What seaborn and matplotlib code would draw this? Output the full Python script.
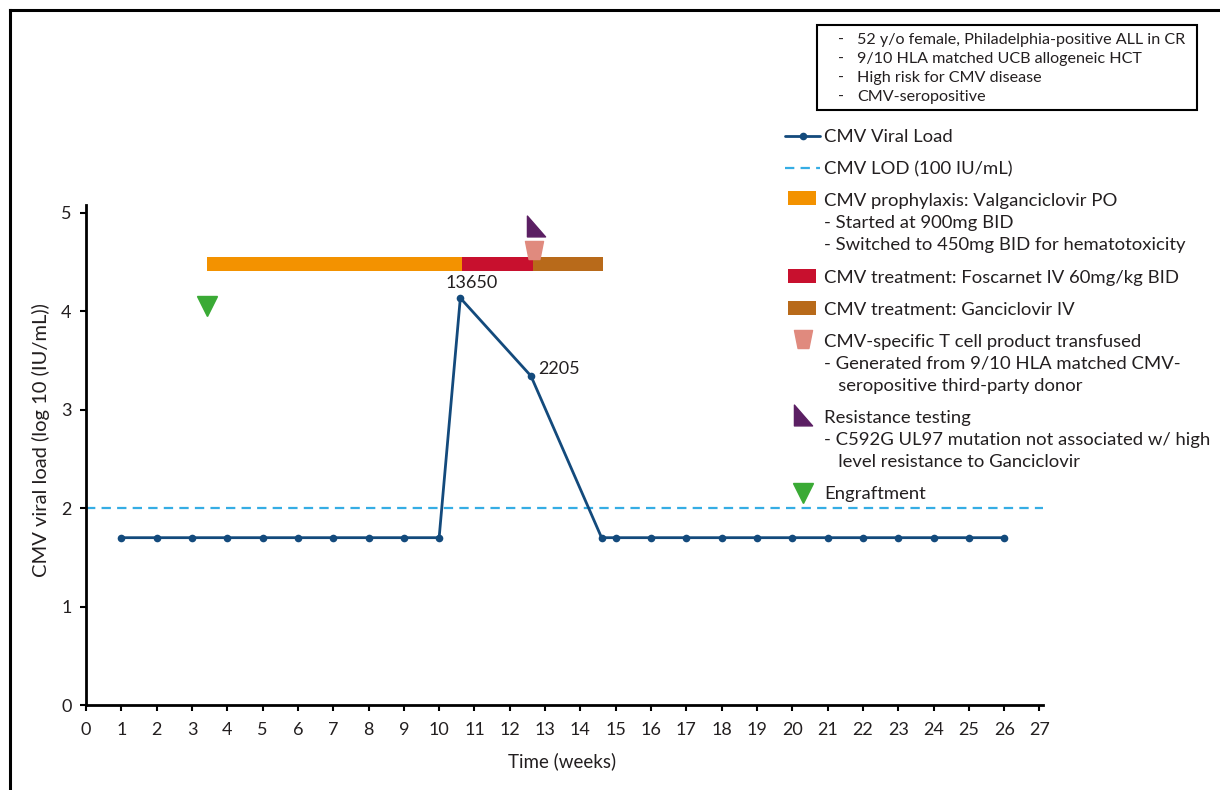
import numpy as np
import pandas as pd
import seaborn as sns
import matplotlib.pyplot as plt
from matplotlib.lines import Line2D
from matplotlib.patches import Patch, Rectangle
from matplotlib.path import Path
from matplotlib.transforms import Affine2D
from matplotlib.legend_handler import HandlerBase, HandlerLine2D, HandlerPatch

# --- data ---
weeks = [1, 2, 3, 4, 5, 6, 7, 8, 9, 10, 10.6, 12.6, 14.6,
         15, 16, 17, 18, 19, 20, 21, 22, 23, 24, 25, 26]
log_load = [1.7, 1.7, 1.7, 1.7, 1.7, 1.7, 1.7, 1.7, 1.7, 1.7, 4.135, 3.343, 1.7,
            1.7, 1.7, 1.7, 1.7, 1.7, 1.7, 1.7, 1.7, 1.7, 1.7, 1.7, 1.7]
peak_weeks = [10.6, 12.6]
peak_copies = [13650, 2205]
lod = 2.0

# treatment bars (start / end week)
treat_names = ["Valganciclovir", "Foscarnet", "Ganciclovir"]
treat_start = [3.42, 10.64, 12.65]
treat_end = [10.64, 12.65, 14.63]
treat_level = 4.48

engraft_week, engraft_y = 3.42, 4.05
tcell_week, tcell_y = 12.68, 4.62
resist_week, resist_y = 12.74, 4.87

info_lines = ["52 y/o female, Philadelphia-positive ALL in CR",
              "9/10 HLA matched UCB allogeneic HCT",
              "High risk for CMV disease",
              "CMV-seropositive"]

# colours
c_load = "#134a7c"
c_lod = "#35ade4"
c_treat = ["#f39200", "#c8102e", "#b86a1a"]
c_tcell = "#e08a7e"
c_resist = "#5b1f63"
c_engraft = "#3aaa35"
txt = "#231f20"

sns.set_theme(style="ticks")
plt.rcParams["font.family"] = ["Lato", "DejaVu Sans"]

# custom markers
trap = Path([(-1, 1), (1, 1), (0.6, -1), (-0.6, -1), (-1, 1)],
            [Path.MOVETO, Path.LINETO, Path.LINETO, Path.LINETO, Path.CLOSEPOLY])
rtri = Path([(-0.87, 1), (0.87, -1), (-0.87, -1), (-0.87, 1)],
            [Path.MOVETO, Path.LINETO, Path.LINETO, Path.CLOSEPOLY])

fig = plt.figure(figsize=(12.2, 7.9), dpi=100)
ax = fig.add_axes([86 / 1220, 85 / 790, (1043 - 86) / 1220, (705 - 205) / 790])

df = pd.DataFrame({"week": weeks, "load": log_load})
sns.lineplot(data=df, x="week", y="load", ax=ax, color=c_load, linewidth=2,
             marker="o", markersize=5.5, markeredgewidth=0, errorbar=None, zorder=3)

ax.axhline(lod, color=c_lod, linewidth=1.6, linestyle=(0, (4.2, 2.8)), zorder=2)

widths = [e - s for s, e in zip(treat_start, treat_end)]
ax.barh([treat_level] * 3, widths, left=treat_start, height=0.14,
        color=c_treat, linewidth=0, zorder=2)

ax.plot([engraft_week], [engraft_y], marker="v", markersize=14, color=c_engraft,
        linestyle="none", clip_on=False)
ax.plot([tcell_week], [tcell_y], marker=trap, markersize=13, color=c_tcell,
        linestyle="none", clip_on=False)
ax.plot([resist_week], [resist_y], marker=rtri, markersize=15, color=c_resist,
        linestyle="none", clip_on=False)

ax.annotate(f"{peak_copies[0]}", (peak_weeks[0], log_load[10]), xytext=(8, 11),
            textcoords="offset points", ha="center", va="center", fontsize=13, color=txt)
ax.annotate(f"{peak_copies[1]}", (peak_weeks[1], log_load[11]), xytext=(5, 5),
            textcoords="offset points", ha="left", va="center", fontsize=13, color=txt)

ax.set_xlim(0, 27.1)
ax.set_ylim(0, 5.08)
ax.set_xticks(range(0, 28))
ax.set_yticks(range(0, 6))
ax.tick_params(direction="out", length=4.5, width=1.5, labelsize=13,
               colors="black", labelcolor=txt)
ax.tick_params(axis="x", pad=8)
ax.tick_params(axis="y", pad=6)
for s in ["top", "right"]:
    ax.spines[s].set_visible(False)
for s in ["left", "bottom"]:
    ax.spines[s].set_linewidth(2)
    ax.spines[s].set_color("black")
ax.set_xlabel("Time (weeks)", fontsize=13.5, color=txt)
ax.set_ylabel("CMV viral load (log 10 (IU/mL))", fontsize=14.5, color=txt)
ax.xaxis.set_label_coords(0.497, -0.094)
ax.yaxis.set_label_coords(-0.0376, 0.53)


# legend handler that keeps the swatch on the first line of a multi-line label
class FirstLine(HandlerBase):
    def __init__(self, base, lift=0):
        super().__init__()
        self.base = base
        self.lift = lift

    def legend_artist(self, legend, orig_handle, fontsize, handlebox):
        xd, yd, w, h = self.base.adjust_drawing_area(
            legend, orig_handle, handlebox.xdescent, handlebox.ydescent,
            handlebox.width, handlebox.height, fontsize)
        trans = Affine2D().translate(0, self.lift) + handlebox.get_transform()
        arts = self.base.create_artists(legend, orig_handle, xd, yd, w, h, fontsize, trans)
        for a in arts:
            handlebox.add_artist(a)
        return arts[0]


def swatch(legend, orig_handle, xdescent, ydescent, width, height, fontsize):
    return Rectangle((-xdescent + 0.09 * width, -ydescent - 0.05 * height),
                     0.78 * width, 1.1 * height)


h_load = Line2D([], [], color=c_load, linewidth=2, marker="o", markersize=5.5, markeredgewidth=0)
h_lod = Line2D([], [], color=c_lod, linewidth=1.6, linestyle=(0, (4.2, 2.8)))
h_pro = Patch(color=c_treat[0], linewidth=0)
h_fos = Patch(color=c_treat[1], linewidth=0)
h_gan = Patch(color=c_treat[2], linewidth=0)
h_tc = Line2D([], [], color=c_tcell, marker=trap, markersize=13, linestyle="none")
h_rs = Line2D([], [], color=c_resist, marker=rtri, markersize=15, linestyle="none")
h_en = Line2D([], [], color=c_engraft, marker="v", markersize=14, linestyle="none")

labels = ["CMV Viral Load",
          "CMV LOD (100 IU/mL)",
          "CMV prophylaxis: Valganciclovir PO\n- Started at 900mg BID\n- Switched to 450mg BID for hematotoxicity",
          "CMV treatment: Foscarnet IV 60mg/kg BID",
          "CMV treatment: Ganciclovir IV",
          "CMV-specific T cell product transfused\n- Generated from 9/10 HLA matched CMV-\n   seropositive third-party donor",
          "Resistance testing\n- C592G UL97 mutation not associated w/ high\n   level resistance to Ganciclovir",
          "Engraftment"]
handles = [h_load, h_lod, h_pro, h_fos, h_gan, h_tc, h_rs, h_en]
lift3 = 18.1
hmap = {h_load: FirstLine(HandlerLine2D(numpoints=1)),
        h_lod: FirstLine(HandlerLine2D()),
        h_pro: FirstLine(HandlerPatch(patch_func=swatch), lift3),
        h_fos: FirstLine(HandlerPatch(patch_func=swatch)),
        h_gan: FirstLine(HandlerPatch(patch_func=swatch)),
        h_tc: FirstLine(HandlerLine2D(numpoints=1), lift3),
        h_rs: FirstLine(HandlerLine2D(numpoints=1), lift3),
        h_en: FirstLine(HandlerLine2D(numpoints=1))}
leg = fig.legend(handles, labels, handler_map=hmap, loc="upper left",
                 bbox_to_anchor=(785 / 1220, 1 - 129 / 790), frameon=False,
                 fontsize=13.3, borderpad=0, borderaxespad=0, handlelength=1.9,
                 handletextpad=0.2, labelspacing=0.87)
for t in leg.get_texts():
    t.set_linespacing(1.47)
    t.set_color(txt)

# patient info box
fig.add_artist(Rectangle((817 / 1220, 1 - 110 / 790), 380 / 1220, 85 / 790,
                         transform=fig.transFigure, fill=False, linewidth=1.5,
                         edgecolor="black"))
for i, line in enumerate(info_lines):
    yy = 1 - (40 + i * 19) / 790
    fig.text(838 / 1220, yy, "-", fontsize=11.6, va="center", color=txt)
    fig.text(857 / 1220, yy, line, fontsize=11.6, va="center", color=txt)

# outer frame (top and left)
fig.add_artist(Line2D([10 / 1220, 1], [1 - 10 / 790, 1 - 10 / 790], transform=fig.transFigure,
                      color="black", linewidth=2.2, solid_capstyle="projecting"))
fig.add_artist(Line2D([10 / 1220, 10 / 1220], [0, 1 - 10 / 790], transform=fig.transFigure,
                      color="black", linewidth=2.2, solid_capstyle="projecting"))

fig.savefig("out.png", dpi=100)
